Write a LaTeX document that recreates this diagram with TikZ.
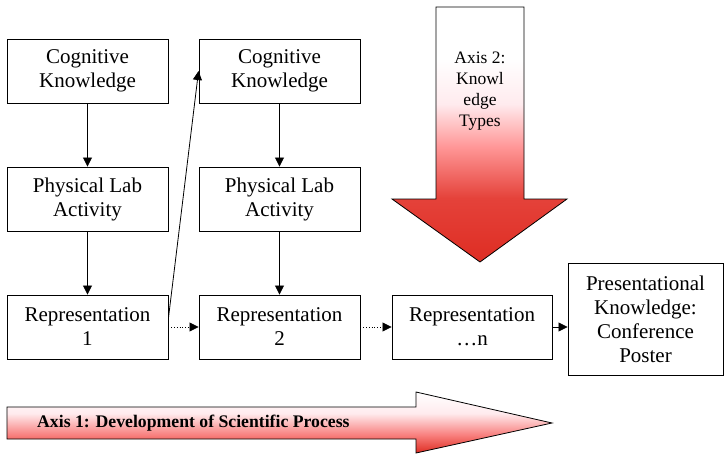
\documentclass[tikz,border=0pt]{standalone}
\usepackage{fontspec}
\setmainfont{Liberation Serif}
\usetikzlibrary{arrows.meta}
\definecolor{axred}{RGB}{222,45,35}
\definecolor{axpink}{RGB}{255,150,150}
\definecolor{axpale}{RGB}{255,235,238}
\pgfdeclareverticalshading{downshade}{100bp}{color(0bp)=(axred); color(25bp)=(axred); color(37.5bp)=(axred!80!axpink); color(47.5bp)=(axpink); color(56bp)=(axpale); color(65bp)=(white); color(100bp)=(white)}
\pgfdeclareverticalshading{rightshade}{100bp}{color(0bp)=(axred); color(25bp)=(axred); color(40bp)=(axpink!80!axred); color(57.5bp)=(axpale); color(75bp)=(white); color(100bp)=(white)}
\tikzset{
  stepbox/.style={draw, line width=0.9pt, minimum width=161pt, minimum height=64pt,
    align=center, inner sep=2pt, font=\fontsize{21}{24}\selectfont},
  conn/.style={line width=0.8pt, -{Triangle[length=9pt,width=9pt]}},
  dconn/.style={conn, dotted},
}
\begin{document}
\begin{tikzpicture}[x=1pt,y=-1pt]
\useasboundingbox (0,0) rectangle (724,455);
% axis 2 arrow
\shade[shading=downshade, draw, line width=0.8pt]
  (436,7) -- (524,7) -- (524,199) -- (567,199) -- (480,262) -- (392,199) -- (436,199) -- cycle;
\node[align=center, font=\fontsize{17.5}{21}\selectfont] (ax2) at (480,91) {Axis 2:\\Knowl\\edge\\Types};
% axis 1 arrow
\shade[shading=rightshade, draw, line width=0.8pt]
  (7,407) -- (416,407) -- (416,392) -- (552,423) -- (416,453) -- (416,439) -- (7,439) -- cycle;
\node[font=\bfseries\fontsize{17.7}{20}\selectfont, anchor=west, inner sep=0pt] (ax1) at (37,423) {Axis 1: Development of Scientific Process};
% boxes
\node[stepbox] (cog1) at (87.5,71) {Cognitive\\Knowledge};
\node[stepbox] (cog2) at (279.5,71) {Cognitive\\Knowledge};
\node[stepbox] (phys1) at (87.5,199) {Physical Lab\\Activity};
\node[stepbox] (phys2) at (279.5,199) {Physical Lab\\Activity};
\node[stepbox] (rep1) at (87.5,327) {Representation\\1};
\node[stepbox] (rep2) at (279.5,327) {Representation\\2};
\node[stepbox, minimum width=160pt] (repn) at (472,327) {Representation\\\ldots n};
\node[stepbox, minimum width=155pt, minimum height=112pt] (pres) at (645.5,319)
  {Presentational\\Knowledge:\\Conference\\Poster};
% connectors
\draw[conn] (cog1) -- (phys1);
\draw[conn] (phys1) -- (rep1);
\draw[conn] (cog2) -- (phys2);
\draw[conn] (phys2) -- (rep2);
\draw[conn] ([yshift=9pt]rep1.east) -- (cog2.west);
\draw[dconn] (rep1) -- (rep2);
\draw[dconn] (rep2) -- (repn);
\draw[conn] (repn) -- (pres.west |- repn.east);
\end{tikzpicture}
\end{document}
